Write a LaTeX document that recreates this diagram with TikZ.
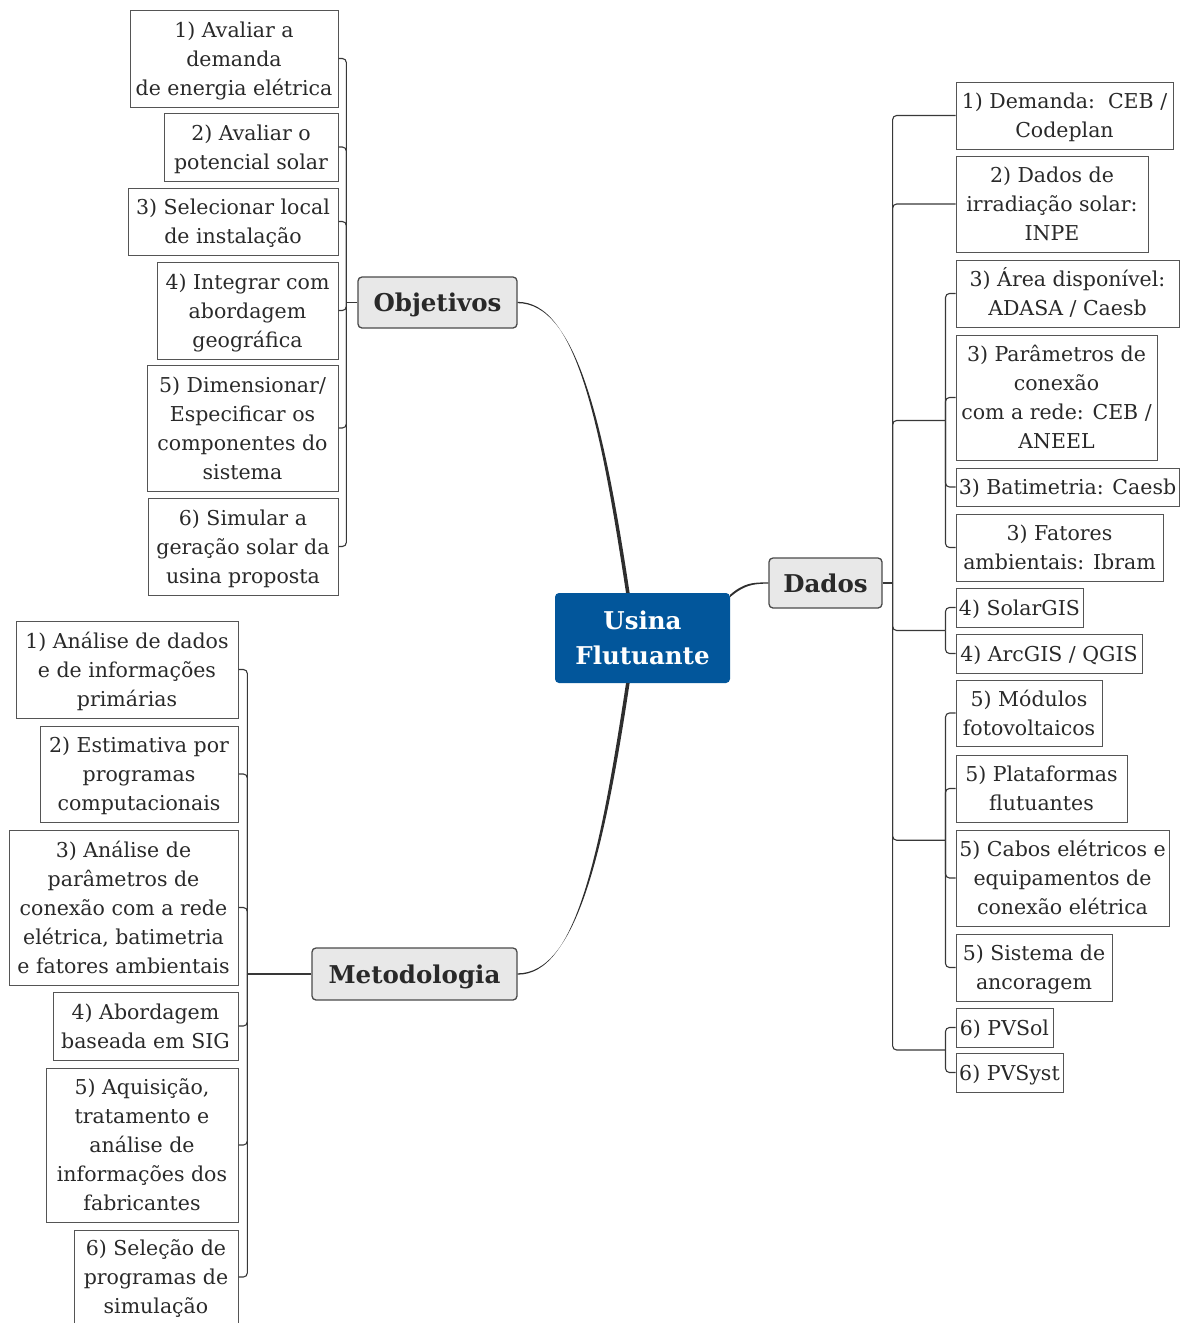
\documentclass[tikz,border=0pt]{standalone}
\usepackage{fontspec}
\setmainfont{DejaVu Serif}
\usetikzlibrary{calc}
\definecolor{txtc}{HTML}{292929}
\definecolor{bordc}{HTML}{555555}
\definecolor{linec}{HTML}{383838}
\definecolor{topicfill}{HTML}{E8E8E8}
\definecolor{topicbord}{HTML}{4A4A4A}
\definecolor{usinablue}{HTML}{02569B}
\definecolor{trunkc}{HTML}{2E2E2E}
\newcommand{\mkleaf}[6]{\node[leaf, minimum width={#4-#2}, minimum height={#5-#3}] (#1) at ({(#2+#4)/2},{(#3+#5)/2}) {\rule{0pt}{20pt}#6\rule[-4.7pt]{0pt}{4.7pt}};}
\newcommand{\mktopic}[6]{\node[topic, minimum width={#4-#2}, minimum height={#5-#3}] (#1) at ({(#2+#4)/2},{(#3+#5)/2}) {#6};}
\begin{document}
\begin{tikzpicture}[x=1pt,y=-1pt,
  leaf/.style={draw=bordc, line width=1pt, fill=white, text=txtc, rectangle,
    font=\fontsize{20.5}{29}\selectfont, align=center, inner xsep=2pt, inner ysep=0pt},
  topic/.style={draw=topicbord, line width=1.3pt, fill=topicfill, rounded corners=4pt,
    text=txtc, font=\fontsize{24.5}{30}\selectfont\bfseries, inner sep=0pt,
    text height=18pt, text depth=0pt},
  central/.style={fill=usinablue, rounded corners=4pt, text=white,
    font=\fontsize{24.5}{35}\selectfont\bfseries, align=center, inner sep=0pt},
  br/.style={draw=linec, line width=1.1pt, rounded corners=4pt},
  trunk/.style={fill=trunkc}
]
\useasboundingbox (0,0) rectangle (1186,1323);

% central
\node[central, minimum width=175, minimum height=90] (usina) at (642.5,638) {Usina\\Flutuante};

% topics
\mktopic{obj}{358}{277}{517}{328}{Objetivos}
\mktopic{dados}{769}{558}{882}{608}{Dados}
\mktopic{met}{312}{948}{517}{1000}{Metodologia}

% Objetivos children
\mkleaf{o1}{130}{10}{338}{107}{1) Avaliar a\\demanda\\de energia elétrica}
\mkleaf{o2}{164}{113}{338}{181}{2) Avaliar o\\potencial solar}
\mkleaf{o3}{128}{188}{338}{255}{3) Selecionar local\\de instalação}
\mkleaf{o4}{157}{262}{338}{359}{4) Integrar com\\abordagem\\geográfica}
\mkleaf{o5}{147}{365}{338}{491}{5) Dimensionar/\\Especificar os\\componentes do\\sistema}
\mkleaf{o6}{148}{498}{338}{595}{6) Simular a\\geração solar da\\usina proposta}

% Dados children
\mkleaf{d1}{956}{82}{1173}{149}{1) Demanda:~~CEB /\\Codeplan}
\mkleaf{d2}{956}{156}{1148}{252}{2) Dados de\\irradiação solar:\\INPE}
\mkleaf{d3a}{956}{260}{1179}{327}{3) Área disponível:\\ADASA / Caesb}
\mkleaf{d3b}{956}{335}{1157}{460}{3) Parâmetros de\\conexão\\com a rede: CEB /\\ANEEL}
\mkleaf{d3c}{956}{468}{1179}{506}{3) Batimetria: Caesb}
\mkleaf{d3d}{956}{514}{1163}{581}{3) Fatores\\ambientais: Ibram}
\mkleaf{d4a}{956}{588}{1083}{627}{4) SolarGIS}
\mkleaf{d4b}{956}{634}{1142}{673}{4) ArcGIS / QGIS}
\mkleaf{d5a}{956}{680}{1102}{746}{5) Módulos\\fotovoltaicos}
\mkleaf{d5b}{956}{755}{1127}{822}{5) Plataformas\\flutuantes}
\mkleaf{d5c}{956}{830}{1169}{926}{5) Cabos elétricos e\\equipamentos de\\conexão elétrica}
\mkleaf{d5d}{956}{934}{1112}{1001}{5) Sistema de\\ancoragem}
\mkleaf{d6a}{956}{1008}{1053}{1047}{6) PVSol}
\mkleaf{d6b}{956}{1053}{1063}{1092}{6) PVSyst}

% Metodologia children
\mkleaf{m1}{16}{621}{238}{718}{1) Análise de dados\\e de informações\\primárias}
\mkleaf{m2}{40}{726}{238}{822}{2) Estimativa por\\programas\\computacionais}
\mkleaf{m3}{9}{830}{238}{985}{3) Análise de\\parâmetros de\\conexão com a rede\\elétrica, batimetria\\e fatores ambientais}
\mkleaf{m4}{53}{992}{238}{1060}{4) Abordagem\\baseada em SIG}
\mkleaf{m5}{46}{1068}{238}{1222}{5) Aquisição,\\tratamento e\\análise de\\informações dos\\fabricantes}
\mkleaf{m6}{74}{1230}{238}{1324}{6) Seleção de\\programas de\\simulação}

% junctions
\coordinate (objj) at ($(obj.west)+(-11,0)$);
\coordinate (dj) at ($(dados.east)+(10,0)$);
\coordinate (mj) at ($(met.west)+(-64,0)$);
\coordinate (g3) at ($(d3a.west)!0.5!(d3d.west)+(-10,0)$);
\coordinate (g4) at ($(d4a.west)!0.5!(d4b.west)+(-10,0)$);
\coordinate (g5) at ($(d5a.west)!0.5!(d5d.west)+(-10,0)$);
\coordinate (g6) at ($(d6a.west)!0.5!(d6b.west)+(-10,0)$);
\coordinate (uo) at ($(usina.north west)+(73,0)$);
\coordinate (uu) at ($(usina.south west)+(73,0)$);
\coordinate (ud) at ($(usina.north east)+(0,3)$);

% trunk connectors (tapered)
\fill[trunk] ($(uo)+(-1.8,0)$) .. controls ($(uo)+(-27.8,-172)$) and ($(obj.east)+(58,-0.65)$) .. ($(obj.east)+(0,-0.65)$)
  -- ($(obj.east)+(0,0.65)$) .. controls ($(obj.east)+(58,0.65)$) and ($(uo)+(-24.2,-172)$) .. ($(uo)+(1.8,0)$) -- cycle;
\fill[trunk] ($(uu)+(-1.8,0)$) .. controls ($(uu)+(-27.8,172)$) and ($(met.east)+(58,0.65)$) .. ($(met.east)+(0,0.65)$)
  -- ($(met.east)+(0,-0.65)$) .. controls ($(met.east)+(58,-0.65)$) and ($(uu)+(-24.2,172)$) .. ($(uu)+(1.8,0)$) -- cycle;
\fill[trunk] ($(ud)+(0,-1.2)$) .. controls ($(ud)+(14,-13)$) and ($(dados.west)+(-16,-0.65)$) .. ($(dados.west)+(0,-0.65)$)
  -- ($(dados.west)+(0,0.65)$) .. controls ($(dados.west)+(-16,0.65)$) and ($(ud)+(14,-10.5)$) .. ($(ud)+(0,1.2)$) -- cycle;

% Objetivos bracket
\draw[br] (obj.west) -- (objj);
\foreach \c in {o1,o2,o3,o4,o5,o6} { \draw[br] (\c.east) -| (objj); }

% Metodologia bracket
\draw[br] (met.west) -- (mj);
\foreach \c in {m1,m2,m3,m4,m5,m6} { \draw[br] (\c.east) -| (mj); }

% Dados bracket
\draw[br] (dados.east) -- (dj);
\draw[br] (dj) |- (d1.west);
\draw[br] (dj) |- (d2.west);
\foreach \g in {g3,g4,g5,g6} { \draw[br] (dj) |- (\g); }
\foreach \c in {d3a,d3b,d3c,d3d} { \draw[br] (g3) |- (\c.west); }
\foreach \c in {d4a,d4b} { \draw[br] (g4) |- (\c.west); }
\foreach \c in {d5a,d5b,d5c,d5d} { \draw[br] (g5) |- (\c.west); }
\foreach \c in {d6a,d6b} { \draw[br] (g6) |- (\c.west); }
\end{tikzpicture}
\end{document}
